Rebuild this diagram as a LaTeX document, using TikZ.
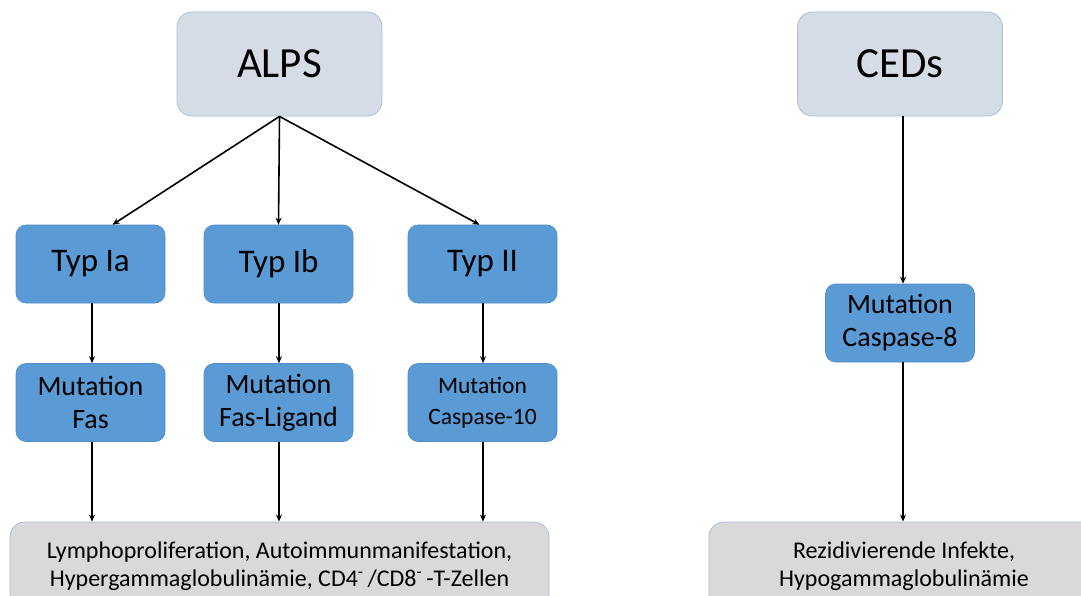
\documentclass[tikz,border=0pt]{standalone}
\usepackage{fontspec}
\setmainfont{Carlito}
\usetikzlibrary{arrows.meta}
\definecolor{topfill}{HTML}{D6DCE5}
\definecolor{topline}{HTML}{A7BFDC}
\definecolor{bluefill}{HTML}{5B9BD5}
\definecolor{blueline}{HTML}{4E8CC8}
\definecolor{greyfill}{HTML}{D9D9D9}
\tikzset{
  topbox/.style={draw=topline, fill=topfill, line width=0.8pt, rounded corners=15pt, minimum width=205pt, minimum height=104pt, inner sep=0pt, font=\fontsize{43}{45}\selectfont},
  bluebox/.style={draw=blueline, fill=bluefill, line width=0.6pt, rounded corners=10pt, minimum width=149pt, minimum height=78pt, inner sep=0pt, align=center},
  typfont/.style={font=\fontsize{33}{35}\selectfont},
  mutfont/.style={font=\fontsize{28}{33}\selectfont},
  greybox/.style={draw=topline, fill=greyfill, line width=0.8pt, rounded corners=15pt, inner sep=0pt, align=center, font=\fontsize{24}{28}\selectfont},
  conn/.style={-{Stealth[length=7pt,width=6pt]}, line width=1.6pt, black}
}
\begin{document}
\begin{tikzpicture}[x=1pt,y=-1pt]
\useasboundingbox (0,0) rectangle (1081,595);
\clip (0,0) rectangle (1081,595);
% top boxes
\node[topbox] (alps) at (279.5,64) {ALPS};
\node[topbox] (ceds) at (900,64) {CEDs};
% type boxes
\node[bluebox,typfont] (ta) at (90.5,264) {Typ Ia};
\node[bluebox,typfont] (tb) at (278.5,264) {Typ Ib};
\node[bluebox,typfont] (tc) at (482.5,264) {Typ II};
% mutation boxes
\node[bluebox,mutfont] (ma) at (90.5,402.5) {Mutation\\Fas};
\node[bluebox,mutfont] (mb) at (278.5,402.5) {Mutation\\Fas-Ligand};
\node[bluebox,font=\fontsize{23.5}{31}\selectfont] (mc) at (482.5,402.5) {Mutation\\Caspase-10};
\node[bluebox,mutfont] (m8) at (900,323) {Mutation\\Caspase-8};
% bottom boxes
\node[greybox, minimum width=539pt, minimum height=88pt] (bl) at (279.5,566) {Lymphoproliferation, Autoimmunmanifestation,\\Hypergammaglobulinämie, CD4\textsuperscript{-}\,/CD8\textsuperscript{-}\,-T-Zellen};
\node[greybox, minimum width=390pt, minimum height=88pt] (br) at (904,566) {Rezidivierende Infekte,\\Hypogammaglobulinämie};
% connectors
\draw[conn] (alps.south) -- ([xshift=22pt]ta.north);
\draw[conn] (alps.south) -- (tb.north);
\draw[conn] (alps.south) -- ([xshift=-3pt]tc.north);
\draw[conn] ([xshift=1.5pt]ta.south) -- ([xshift=1.5pt]ma.north);
\draw[conn] ([xshift=0.5pt]tb.south) -- ([xshift=0.5pt]mb.north);
\draw[conn] ([xshift=0.5pt]tc.south) -- ([xshift=0.5pt]mc.north);
\draw[conn] ([xshift=1.5pt]ma.south) -- ([xshift=1.5pt]ma.south |- bl.north);
\draw[conn] ([xshift=0.5pt]mb.south) -- ([xshift=0.5pt]mb.south |- bl.north);
\draw[conn] ([xshift=0.5pt]mc.south) -- ([xshift=0.5pt]mc.south |- bl.north);
\draw[conn] ([xshift=3pt]ceds.south) -- ([xshift=3pt]m8.north);
\draw[conn] ([xshift=3pt]m8.south) -- ([xshift=3pt]m8.south |- br.north);
\end{tikzpicture}
\end{document}
